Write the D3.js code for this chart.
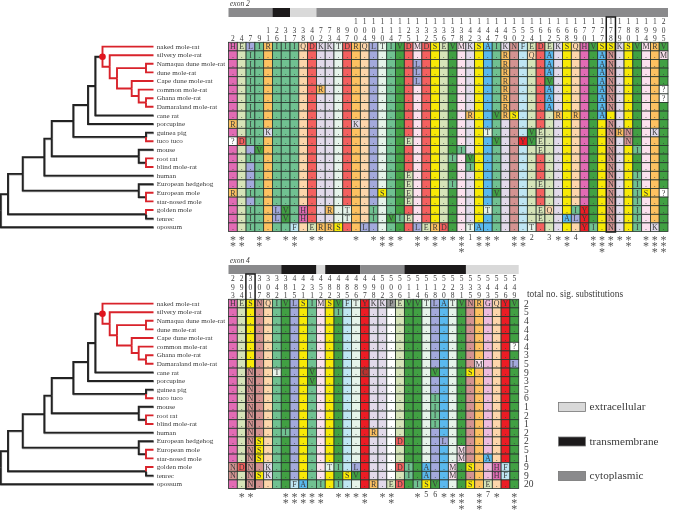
<!DOCTYPE html>
<html><head><meta charset="utf-8">
<script src="https://cdn.jsdelivr.net/npm/d3@7/dist/d3.min.js"></script>
<style>html,body{margin:0;padding:0;background:#fff}svg{display:block;filter:blur(0.3px)}text{font-family:"Liberation Serif",serif}</style>
</head><body><svg id="c" width="674" height="511"></svg>
<script>
const species=["naked mole-rat","silvery mole-rat","Namaqua dune mole-rat","dune mole-rat","Cape dune mole-rat","common mole-rat","Ghana mole-rat","Damaraland mole-rat","cane rat","porcupine","guinea pig","tuco tuco","mouse","root rat","blind mole-rat","human","European hedgehog","European mole","star-nosed mole","golden mole","tenrec","opossum"];
const exon2Sites=[2,4,7,9,11,26,31,37,38,40,72,73,84,97,100,104,109,110,114,117,125,131,132,135,136,137,138,142,143,144,147,149,150,152,154,161,162,165,168,169,170,171,177,178,179,180,181,194,199,205];
const exon2Ref="HELIRIIIQDKKTDRQLTIVDMDSEVMKSAIKNFEDEKSQHVSSKSVMRV";
const exon2Subs=["",
"7I 149R 154Q 162A 177A 178N 205M",
"7I 131L 149R 162A 177A 178N",
"7I 131L 149R 162A 177A 178N",
"7I 131L 149R 162V 177A 178N",
"7I 72R 149R 162A 177A 178N 205?",
"7I 149R 162A 177A 178N 205?",
"7I 149R 162A 177A 178N",
"7I 142R 147V 149R 150S 165R 169R 177A",
"2R 7I 100K 178N",
"7I 11K 144T 154V 161E 178N 179R 180N 199K",
"2? 4D 7I 125E 147V 152Y 154V 161E 178N 180N",
"9V 138I 161E 178N 181I",
"7I 137I 142V 178N",
"142I 178N",
"125E 178N 181I",
"125E 137I 161E 178N 181I",
"2R 7I 110S 125E 147V 178N 181I 194S 205?",
"125E 178N 181I",
"7I 26L 31V 38H 73R 97T 109I 144T 161E 162Q 169I 170Y 178N 181I",
"7I 26L 31V 38H 97T 109I 114V 117I 125E 161E 168A 169L 170Y 178N 181I",
"7I 37F 40E 72R 73R 84S 104L 131L 132E 135R 136D 142T 143A 154T 170Y 171I 178N 181I 199K"];
const exon2Stars=[2,2,0,2,1,0,1,2,0,1,1,0,0,0,1,0,1,2,2,1,0,2,1,2,1,1,3,"1",2,2,1,0,2,2,"2",0,"3",1,2,"4",0,2,3,2,1,2,0,2,3,3];
const exon2Domains=[["cytoplasmic",5],["transmembrane",2],["extracellular",3],["cytoplasmic",40]];

const exon4Sites=[293,294,301,307,308,342,381,415,421,431,452,482,483,485,486,497,498,502,503,506,511,514,516,518,520,528,531,535,539,543,545,546,549];
const exon4Ref="HESNQIVLSIMSVFTYKKPEVVTLATVNRGQYV";
const exon4Subs=["",
"483I","","","",
"549?","",
"539M 549L",
"301N 342T 431V 497C 518V 535S",
"301N 431V",
"301N",
"301N 518I","301N 518I","301N 518I","301N 518I",
"301N 381I 498R",
"301N 307S 506D 520L",
"301N 307S 531M",
"301N 307S 531M 543A",
"293N 294D 301N 308K 482T 483I 486L 506D 511I 516A 528M 535S 545H 546F",
"293N 301N 307S 308K 485S 486V 511I 516A 528M 545H 546F",
"301N 415F 421A 452I 483I 498R 503E 506D 514I 516S 518V 535S 543E"];
const exon4Stars=[0,1,1,0,0,0,2,2,2,2,2,0,1,1,1,2,0,1,2,0,0,1,"5","6",1,2,3,0,3,"7",1,0,3];
const exon4Domains=[["cytoplasmic",6],["transmembrane",4],["extracellular",1],["transmembrane",4],["cytoplasmic",5],["transmembrane",7],["extracellular",6]];
const totalSubs=[2,5,4,4,4,4,3,5,9,3,5,6,1,2,1,2,2,5,1,9,9,20];
const legendItems=["extracellular","transmembrane","cytoplasmic"];
const domainColor={extracellular:"#d9d9d9",transmembrane:"#1c1a1b",cytoplasmic:"#8a8a8c"};
const residueColor={H:"#e26bb4",E:"#d6e4b8",L:"#a3a9dc",I:"#70c191",R:"#fdc161",Q:"#fdd6ab",D:"#f4605f",K:"#e2daea",T:"#e6f4ea",V:"#41a043",M:"#fce1ee",S:"#f8ea06",A:"#5ab9ee",N:"#d49391",F:"#bfe6f3",Y:"#ec1c24",G:"#eebcdd",P:"#ffffff",C:"#b8332f","?":"#ffffff"};
const headerOverride={P:"#9a9a9a"};
// tree: branching levels
const tree={t:0.7,children:[
 {t:8,children:[
  {t:22.7,children:[
   {t:44.3,children:[
    {t:51.7,children:[
     {t:73.3,children:[
      {t:88,children:[
       {t:95.3,children:[
        {t:102.5,dot:1,children:[
         {name:"naked mole-rat",red:1},
         {t:109.7,red:1,children:[
          {name:"silvery mole-rat",red:1},
          {t:117,red:1,children:[
           {t:146,red:1,children:[{name:"Namaqua dune mole-rat",red:1},{name:"dune mole-rat",red:1}]},
           {t:131.7,red:1,children:[
            {name:"Cape dune mole-rat",red:1},
            {t:138.7,red:1,children:[
             {name:"common mole-rat",red:1},
             {t:146,red:1,children:[{name:"Ghana mole-rat",red:1},{name:"Damaraland mole-rat",red:1}]}
            ]}
           ]}
          ]}
         ]}
        ]},
        {name:"cane rat"}
       ]},
       {name:"porcupine"}
      ]},
      {t:146,children:[{name:"guinea pig"},{name:"tuco tuco",red:1}]}
     ]},
     {t:138.7,children:[{name:"mouse"},{t:146,children:[{name:"root rat",red:1},{name:"blind mole-rat",red:1}]}]}
    ]},
    {name:"human"}
   ]},
   {t:138.7,children:[{name:"European hedgehog"},{t:146,children:[{name:"European mole",red:1},{name:"star-nosed mole",red:1}]}]}
  ]},
  {t:146,children:[{name:"golden mole",red:1},{name:"tenrec"}]}
 ]},
 {name:"opossum"}
]};

const svg=d3.select("#c");
const TXT="#3a3a3a";
function panel(sites,ref,subs,stars,domains,o){
 const x=d3.scaleBand().domain(sites).range([228.5,o.right]);
 const y=d3.scaleBand().domain(species).range([o.top,o.top+189.2]);
 const g=svg.append("g");
 const sub=subs.map(s=>{const m={};s.split(" ").filter(Boolean).forEach(k=>m[+k.slice(0,-1)]=k.slice(-1));return m;});
 const cells=[];
 species.forEach((sp,r)=>sites.forEach((st,c)=>{
  const s=sub[r][st];
  const base=ref[c];
  cells.push({sp,st,letter:r===0?base:(s||"."),fill:r===0?(headerOverride[base]||residueColor[base]):residueColor[s||base]});
 }));
 g.selectAll("rect.cell").data(cells).join("rect").attr("class","cell")
  .attr("x",d=>x(d.st)).attr("y",d=>y(d.sp)).attr("width",x.bandwidth()).attr("height",y.bandwidth())
  .attr("fill",d=>d.fill).attr("stroke","#26332c").attr("stroke-width",0.8);
 g.selectAll("text.cell").data(cells).join("text").attr("class","cell")
  .attr("x",d=>x(d.st)+x.bandwidth()/2).attr("y",d=>y(d.sp)+y.bandwidth()/2+2.7)
  .attr("text-anchor","middle").attr("font-size",8).attr("fill","#3a3a3a").text(d=>d.letter);
 // site numbers
 [0,1,2].forEach(i=>{
  g.selectAll(null).data(sites).join("text")
   .attr("x",d=>x(d)+x.bandwidth()/2).attr("y",o.top+[-18.7,-9.7,-1.7][i])
   .attr("text-anchor","middle").attr("font-size",7.5).attr("fill",TXT)
   .text(d=>{const s=String(d).padStart(3," ");return s[i]===" "?"":s[i];});
 });
 // exon domain bar
 const w=d3.scaleLinear().domain([0,sites.length]).range([228.5,o.right]);
 let acc=0;
 domains.forEach(([n,k])=>{
  g.append("rect").attr("x",w(acc)).attr("y",o.barY).attr("width",w(acc+k)-w(acc)).attr("height",9).attr("fill",domainColor[n]);
  acc+=k;
 });
 g.append("text").attr("x",230).attr("y",o.barY-2).attr("font-size",7.5).attr("font-style","italic").attr("fill",TXT).text(o.label);
 // box around highlighted column
 g.append("rect").attr("x",x(o.boxed)-0.2).attr("y",o.barY+9).attr("width",x.bandwidth()+0.4)
  .attr("height",o.top+189.2-(o.barY+9)+0.5).attr("fill","none").attr("stroke","#1c1c1c").attr("stroke-width",1.5);
 // significance stars
 stars.forEach((v,i)=>{
  const cx=x(sites[i])+x.bandwidth()/2;
  if(typeof v==="string"){
   g.append("text").attr("x",cx).attr("y",o.top+189.2+8.6).attr("text-anchor","middle").attr("font-size",8).attr("fill",TXT).text(v);
  }else d3.range(v).forEach(k=>{
   g.append("text").attr("x",cx).attr("y",o.top+189.2+12+k*6.4).attr("text-anchor","middle").attr("font-size",12).attr("fill","#555").text("*");
  });
 });
 // tree
 const root=d3.hierarchy(tree);
 const tx=d3.scaleLinear().domain([0,153.5]).range([0,153.5]);
 root.eachAfter(n=>{
  if(n.children){n.py=(n.children[0].py+n.children[n.children.length-1].py)/2;}
  else n.py=y(n.data.name)+y.bandwidth()/2;
  n.px=n.children?tx(n.data.t):tx(153.5);
 });
 const links=root.links();
 const lineG=g.append("g").attr("fill","none").attr("stroke-width",1.9);
 const elbow=l=>`M${l.source.px},${l.source.py}V${l.target.py}H${l.target.px}`;
 lineG.selectAll("path.s").data(links.filter(l=>!l.target.data.red)).join("path").attr("class","s").attr("d",elbow).attr("stroke","#a8a8a8").attr("transform","translate(0.5,0.6)");
 lineG.selectAll("path.b").data(links.filter(l=>!l.target.data.red)).join("path").attr("class","b").attr("d",elbow).attr("stroke","#222");
 lineG.selectAll("path.r").data(links.filter(l=>l.target.data.red)).join("path").attr("class","r").attr("d",elbow).attr("stroke","#d9232b");
 const dot=root.descendants().find(n=>n.data.dot);
 g.append("circle").attr("cx",dot.px).attr("cy",dot.py).attr("r",3.3).attr("fill","#e0141e");
 g.selectAll("text.sp").data(species).join("text").attr("class","sp")
  .attr("x",156.7).attr("y",d=>y(d)+y.bandwidth()/2+2.2).attr("font-size",7.1).attr("fill",TXT).text(d=>d);
 return {x,y};
}
panel(exon2Sites,exon2Ref,exon2Subs,exon2Stars,exon2Domains,{top:42.3,right:668,barY:8,label:"exon 2",boxed:178});
const p4=panel(exon4Sites,exon4Ref,exon4Subs,exon4Stars,exon4Domains,{top:299.3,right:518.7,barY:265,label:"exon 4",boxed:301});
svg.append("text").attr("x",527).attr("y",297).attr("font-size",9.4).attr("fill",TXT).text("total no. sig. substitutions");
svg.selectAll("text.tot").data(totalSubs).join("text").attr("class","tot")
 .attr("x",524).attr("y",(d,i)=>p4.y(species[i])+p4.y.bandwidth()/2+3.2).attr("font-size",9.5).attr("fill",TXT).text(d=>d);
const ly=d3.scalePoint().domain(legendItems).range([407,476]);
legendItems.forEach(n=>{
 svg.append("rect").attr("x",558.5).attr("y",ly(n)-4.5).attr("width",27).attr("height",9).attr("fill",domainColor[n]).attr("stroke","#777").attr("stroke-width",0.8);
 svg.append("text").attr("x",589.5).attr("y",ly(n)+3).attr("font-size",11.2).attr("fill",TXT).text(n);
});
</script></body></html>
